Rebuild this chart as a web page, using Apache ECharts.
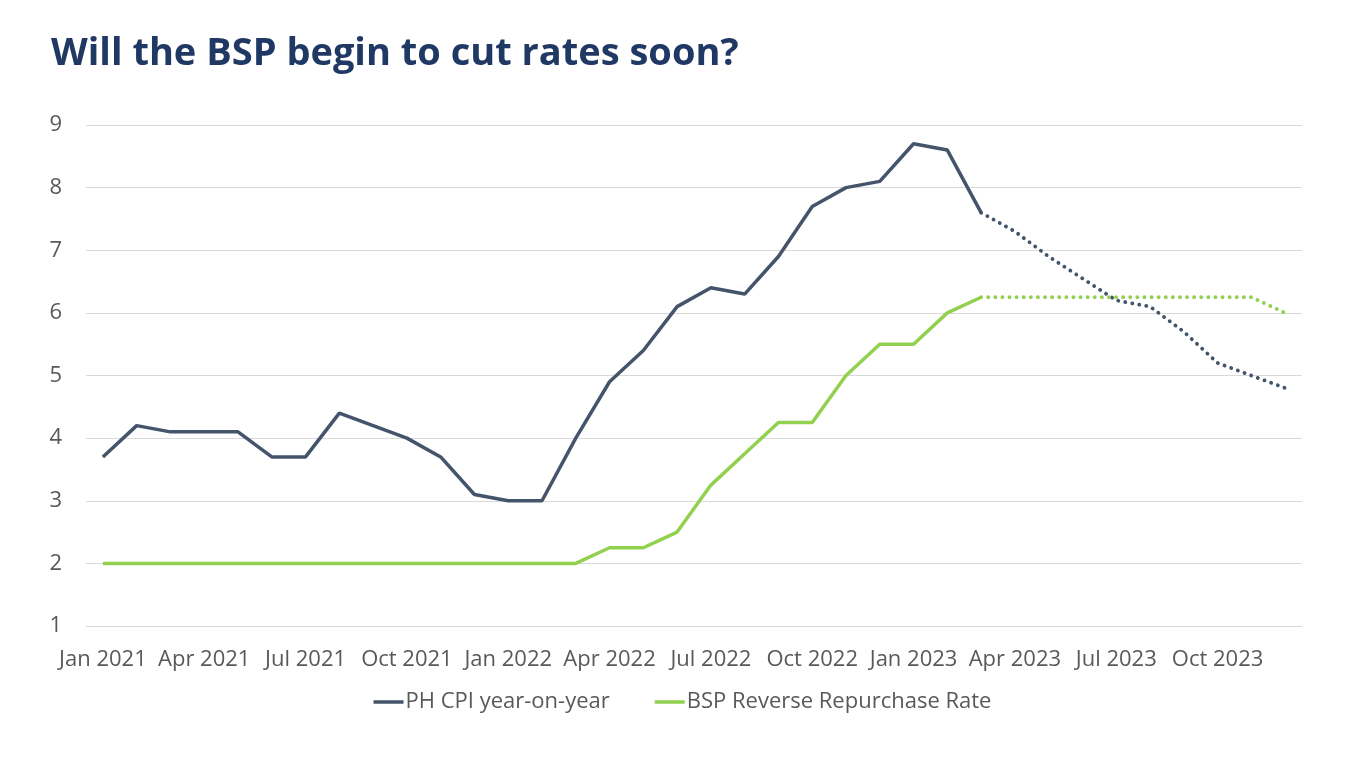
<!DOCTYPE html>
<html>
<head>
<meta charset="utf-8">
<title>Will the BSP begin to cut rates soon?</title>
<script src="https://cdn.jsdelivr.net/npm/echarts@6.0.0/dist/echarts.min.js"></script>
<style>
    html, body { margin: 0; padding: 0; background: #fff; }
    #chart { width: 1365px; height: 768px; }
</style>
</head>
<body>
<div id="chart"></div>
<script>
    // monthly data, Jan 2021 - Dec 2023
    var months = [
        'Jan 2021', 'Feb 2021', 'Mar 2021', 'Apr 2021', 'May 2021', 'Jun 2021',
        'Jul 2021', 'Aug 2021', 'Sep 2021', 'Oct 2021', 'Nov 2021', 'Dec 2021',
        'Jan 2022', 'Feb 2022', 'Mar 2022', 'Apr 2022', 'May 2022', 'Jun 2022',
        'Jul 2022', 'Aug 2022', 'Sep 2022', 'Oct 2022', 'Nov 2022', 'Dec 2022',
        'Jan 2023', 'Feb 2023', 'Mar 2023', 'Apr 2023', 'May 2023', 'Jun 2023',
        'Jul 2023', 'Aug 2023', 'Sep 2023', 'Oct 2023', 'Nov 2023', 'Dec 2023'
    ];
    var cpi = [
        3.7, 4.2, 4.1, 4.1, 4.1, 3.7, 3.7, 4.4, 4.2, 4.0, 3.7, 3.1,
        3.0, 3.0, 4.0, 4.9, 5.4, 6.1, 6.4, 6.3, 6.9, 7.7, 8.0, 8.1,
        8.7, 8.6, 7.6, 7.3, 6.9, 6.55, 6.2, 6.1, 5.7, 5.2, 5.0, 4.8
    ];
    var rrp = [
        2, 2, 2, 2, 2, 2, 2, 2, 2, 2, 2, 2,
        2, 2, 2, 2.25, 2.25, 2.5, 3.25, 3.75, 4.25, 4.25, 5, 5.5,
        5.5, 6, 6.25, 6.25, 6.25, 6.25, 6.25, 6.25, 6.25, 6.25, 6.25, 6
    ];
    var lastActual = 26; // Mar 2023, forecast after this
    var yTicks = [1, 9, 1]; // min, max, interval

    var cpiName = 'PH CPI year-on-year';
    var rrpName = 'BSP Reverse Repurchase Rate';
    var cpiColor = '#44546a';
    var rrpColor = '#92d050';
    var textColor = '#595959';
    var font = 'Open Sans';

    function part(arr, forecast) {
        return arr.map(function (v, i) {
            if (forecast) return i >= lastActual ? v : null;
            return i <= lastActual ? v : null;
        });
    }

    var dots = { type: [0.1, 7], cap: 'round', width: 3.8 };

    var myChart = echarts.init(document.getElementById('chart'));
    var option = {
        animation: false,
        title: {
            text: 'Will the BSP begin to cut rates soon?',
            left: 46,
            top: 30,
            textStyle: {
                color: '#203864',
                fontFamily: font,
                fontWeight: 'bold',
                fontSize: 38
            }
        },
        legend: {
            data: [cpiName, rrpName],
            bottom: 50,
            left: 'center',
            itemGap: 45,
            itemWidth: 30,
            itemHeight: 3.5,
            icon: 'rect',
            textStyle: { color: textColor, fontFamily: font, fontSize: 22, padding: [0, 0, 0, -3] }
        },
        grid: { left: 86, right: 63, top: 125, bottom: 142 },
        xAxis: {
            type: 'category',
            data: months,
            boundaryGap: true,
            axisLine: { lineStyle: { color: '#d9d9d9', width: 1 } },
            axisTick: { interval: 2, length: 6, lineStyle: { color: '#d9d9d9' } },
            axisLabel: {
                interval: 2,
                margin: 23,
                color: textColor,
                fontFamily: font,
                fontSize: 22
            }
        },
        yAxis: {
            type: 'value',
            min: yTicks[0],
            max: yTicks[1],
            interval: yTicks[2],
            axisLine: { show: false },
            axisTick: { show: false },
            axisLabel: { margin: 24, color: textColor, fontFamily: font, fontSize: 22 },
            splitLine: { lineStyle: { color: '#d9d9d9', width: 1 } }
        },
        series: [
            {
                name: cpiName,
                type: 'line',
                data: part(cpi, false),
                symbol: 'none',
                color: cpiColor,
                lineStyle: { color: cpiColor, width: 3.5 }
            },
            {
                name: cpiName + ' forecast',
                type: 'line',
                data: part(cpi, true),
                symbol: 'none',
                color: cpiColor,
                lineStyle: Object.assign({ color: cpiColor }, dots)
            },
            {
                name: rrpName,
                type: 'line',
                data: part(rrp, false),
                symbol: 'none',
                color: rrpColor,
                lineStyle: { color: rrpColor, width: 3.5 }
            },
            {
                name: rrpName + ' forecast',
                type: 'line',
                data: part(rrp, true),
                symbol: 'none',
                color: rrpColor,
                lineStyle: Object.assign({ color: rrpColor }, dots)
            }
        ]
    };
    myChart.setOption(option);
</script>
</body>
</html>
